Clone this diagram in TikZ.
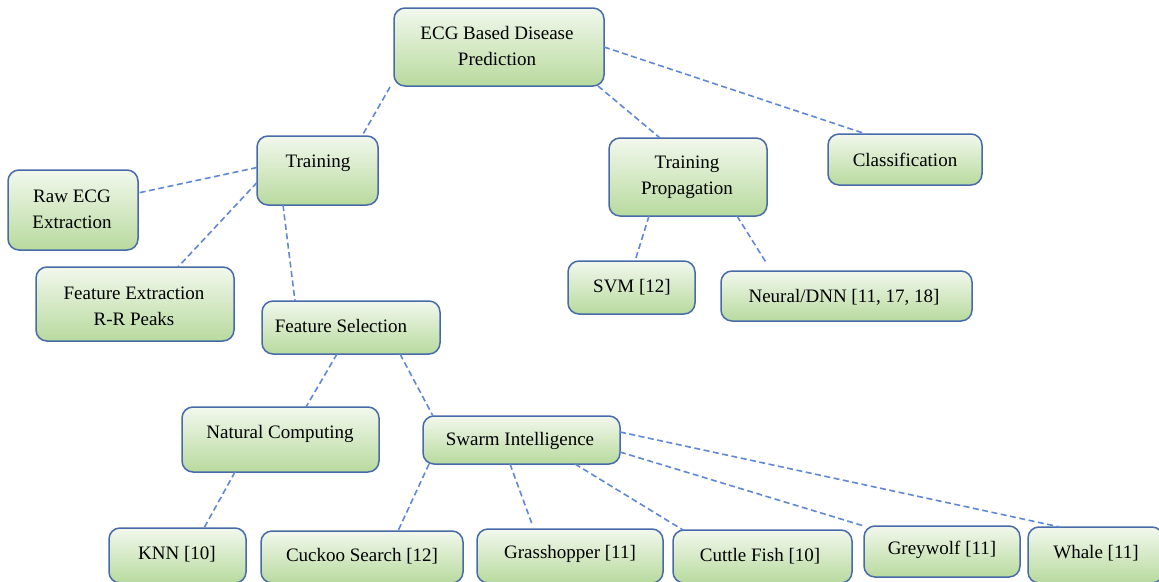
\documentclass[tikz,border=0pt]{standalone}
\usepackage{fontspec}
\setmainfont{Liberation Serif}
\usetikzlibrary{fit,calc}
\definecolor{bxborder}{RGB}{72,106,168}
\definecolor{bxtop}{RGB}{242,248,237}
\definecolor{bxbot}{RGB}{184,218,158}
\definecolor{conn}{RGB}{96,136,212}
\tikzset{
  bx/.style={draw=bxborder, line width=1.5pt, rounded corners=11pt, inner sep=0pt, outer sep=0pt,
    top color=bxtop, bottom color=bxbot},
  lbl/.style={font=\fontsize{19}{26}\selectfont, align=center, inner sep=0pt, text=black},
  cn/.style={draw=conn, line width=1.6pt, dash pattern=on 6pt off 3.5pt}
}
\newcommand\mkbox[5]{\node[bx, fit={(#2,#3)(#4,#5)}] (#1) {};}
\begin{document}
\begin{tikzpicture}[x=1pt,y=-1pt]
\useasboundingbox[fill=white] (0,0) rectangle (1159,581);
\begin{scope}
\clip (0,0) rectangle (1159,581);
% boxes
\mkbox{root}{394}{8}{604}{86}
\mkbox{train}{257}{136}{378}{205}
\mkbox{raw}{8}{170}{138}{250}
\mkbox{fext}{36}{267}{234}{341}
\mkbox{fsel}{262}{301}{440}{354}
\mkbox{tprop}{609}{138}{767}{216}
\mkbox{clas}{828}{134}{982}{185}
\mkbox{svm}{568}{261}{695}{314}
\mkbox{dnn}{721}{271}{972}{321}
\mkbox{nat}{182}{407}{379}{472}
\mkbox{swarm}{423}{416}{620}{464}
\mkbox{knn}{109}{528}{246}{583}
\mkbox{cuckoo}{261}{531}{463}{583}
\mkbox{grass}{477}{529}{663}{583}
\mkbox{cuttle}{673}{530}{852}{583}
\mkbox{grey}{864}{526}{1020}{577}
\mkbox{whale}{1028}{527}{1163}{583}
% labels
\node[lbl] (rootT) at (497,46) {ECG Based Disease\\Prediction};
\node[lbl] (trainT) at (318,163) {Training};
\node[lbl] (rawT) at (72,209) {Raw ECG\\Extraction};
\node[lbl] (fextT) at (134,306) {Feature Extraction\\R-R Peaks};
\node[lbl] (fselT) at (341,326) {Feature Selection};
\node[lbl] (tpropT) at (687,177) {Training\\Propagation};
\node[lbl] (clasT) at (905,160) {Classification};
\node[lbl] (svmT) at (632,287) {SVM [12]};
\node[lbl] (dnnT) at (844,297) {Neural/DNN [11, 17, 18]};
\node[lbl] (natT) at (280,434) {Natural Computing};
\node[lbl] (swarmT) at (520,441) {Swarm Intelligence};
\node[lbl] (knnT) at (177,554) {KNN [10]};
\node[lbl] (cuckooT) at (362,556) {Cuckoo Search [12]};
\node[lbl] (grassT) at (570,554) {Grasshopper [11]};
\node[lbl] (cuttleT) at (760,556) {Cuttle Fish [10]};
\node[lbl] (greyT) at (942,550) {Greywolf [11]};
\node[lbl] (whaleT) at (1096,553) {Whale [11]};
% connectors
\draw[cn] ([xshift=-4pt,yshift=-1pt]root.south west) -- ([xshift=105pt]train.north west);
\draw[cn] ([xshift=-6pt]root.south east) -- ([xshift=51pt]tprop.north west);
\draw[cn] (root.east) -- ([xshift=38pt]clas.north west);
\draw[cn] ([yshift=3pt]train.west) -- ([yshift=17pt]raw.east);
\draw[cn] ([yshift=-12pt]train.west) -- ([xshift=142pt]fext.north west);
\draw[cn] ([xshift=26pt]train.south west) -- ([xshift=33pt]fsel.north west);
\draw[cn] ([xshift=40pt]tprop.south west) -- ([xshift=67pt]svm.north west);
\draw[cn] ([xshift=128pt]tprop.south west) -- ([xshift=46pt,yshift=7pt]dnn.north west);
\draw[cn] ([xshift=75pt]fsel.south west) -- ([xshift=124pt]nat.north west);
\draw[cn] ([xshift=138pt]fsel.south west) -- ([xshift=10pt]swarm.north west);
\draw[cn] ([xshift=53pt]nat.south west) -- ([xshift=95pt]knn.north west);
\draw[cn] ([xshift=6pt]swarm.south west) -- ([xshift=137pt]cuckoo.north west);
\draw[cn] ([xshift=87pt]swarm.south west) -- ([xshift=55pt,yshift=5pt]grass.north west);
\draw[cn] ([xshift=152pt]swarm.south west) -- ([xshift=10pt]cuttle.north west);
\draw[cn] ([yshift=-12pt]swarm.east) -- (grey.north west);
\draw[cn] ([yshift=8pt]swarm.east) -- ([xshift=32pt]whale.north west);
\end{scope}
\end{tikzpicture}
\end{document}
